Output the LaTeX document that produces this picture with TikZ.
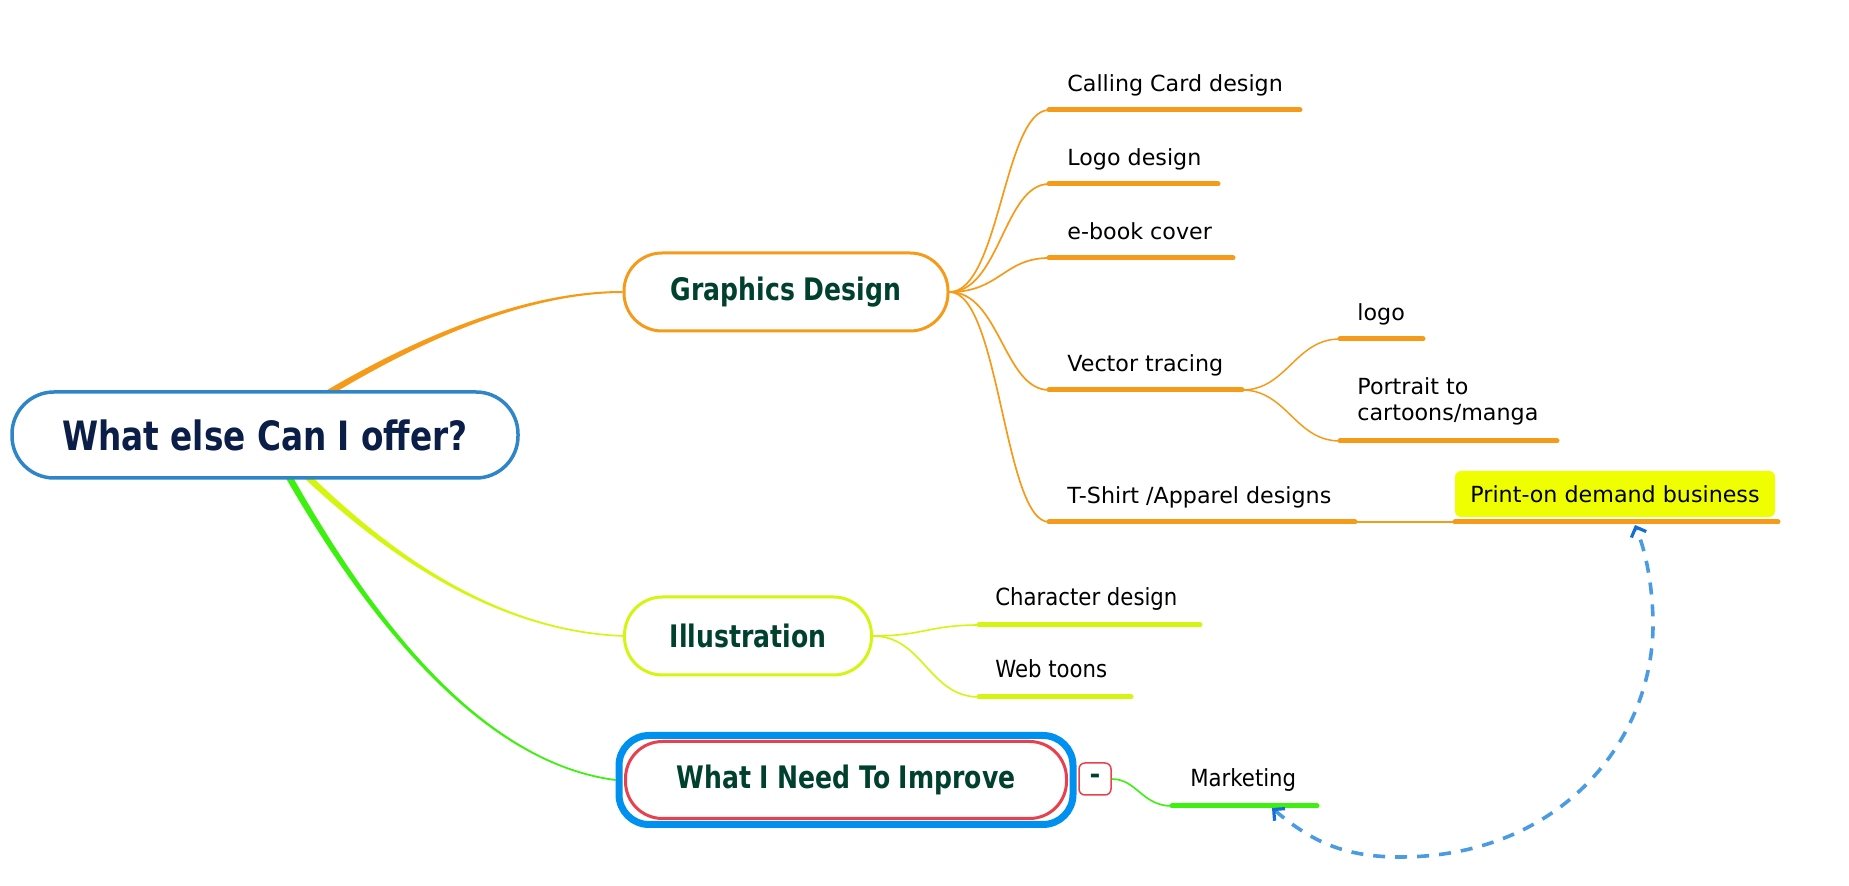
\documentclass[tikz,border=0pt]{standalone}
\usepackage{fontspec}
\setmainfont{DejaVu Sans}
\newfontfamily\condfont{DejaVu Sans Condensed}
\newfontfamily\topicfont{DejaVu Sans Condensed Bold}[FakeStretch=0.9]
\usetikzlibrary{arrows.meta,calc}
\definecolor{cOrange}{RGB}{245,155,25}
\definecolor{cYel}{RGB}{212,245,16}
\definecolor{cGreen}{RGB}{62,240,16}
\definecolor{rootBlue}{RGB}{46,134,200}
\definecolor{selBlue}{RGB}{0,145,240}
\definecolor{cRed}{RGB}{232,64,76}
\definecolor{pdYel}{RGB}{240,255,0}
\definecolor{dashBlue}{RGB}{74,155,225}
\definecolor{tipBlue}{RGB}{20,110,210}
\definecolor{topicText}{RGB}{0,64,46}
\definecolor{rootText}{RGB}{10,30,72}
\pgfdeclarelayer{bg}
\pgfsetlayers{bg,main}
\begin{document}
\begin{tikzpicture}[x=0.5pt,y=-0.5pt,
  topic/.style={draw, line width=1.5pt, fill=white, rounded corners=19pt,
    minimum height=39pt, inner sep=0pt, text=topicText,
    font=\topicfont\fontsize{15.5}{18}\selectfont},
  rootbox/.style={draw=rootBlue, line width=1.75pt, fill=white, rounded corners=21pt,
    minimum width=253pt, minimum height=43pt, inner sep=0pt, text=rootText,
    font=\topicfont\fontsize{20.2}{24}\selectfont},
  leaf/.style={anchor=base west, inner sep=0pt, text=black,
    font=\fontsize{11.1}{13}\selectfont},
  leafc/.style={anchor=base west, inner sep=0pt, text=black,
    font=\condfont\fontsize{11.8}{14}\selectfont},
  uline/.style={line width=2.5pt, line cap=round},
  fan/.style={line width=0.85pt},
]
\useasboundingbox (0,0) rectangle (1849,886);

% ---- main nodes
\node[rootbox] (root) at (265,435) {What else Can I offer?};
\node[topic, draw=cOrange, minimum width=162pt] (gd) at (786,292) {Graphics Design};
\node[topic, draw=cYel, minimum width=123.5pt] (il) at (748,636) {Illustration};
\node[draw=selBlue, fill=white, line width=3.5pt, rounded corners=15pt,
  minimum width=227pt, minimum height=44.5pt, inner sep=0pt] (impsel) at (846,780) {};
\node[topic, draw=cRed, minimum width=220.5pt, minimum height=38.5pt,
  rounded corners=18.5pt] (im) at (846,780) {What I Need To Improve};
\node[draw=cRed, line width=0.75pt, rounded corners=3pt, minimum size=16pt,
  inner sep=0pt, text=topicText, font=\bfseries\fontsize{13}{13}\selectfont] (minus) at (1095,779) {-};

% ---- Graphics Design children
\coordinate (cc-s) at (1049,110); \coordinate (cc-e) at (1300,110);
\coordinate (lg-s) at (1049,184); \coordinate (lg-e) at (1218,184);
\coordinate (eb-s) at (1049,258); \coordinate (eb-e) at (1233,258);
\coordinate (vt-s) at (1049,390); \coordinate (vt-e) at (1242,390);
\coordinate (ts-s) at (1049,522); \coordinate (ts-e) at (1355,522);
\node[leaf] (cc) at (1067,92) {Calling Card design};
\node[leaf] (lg) at (1067,166) {Logo design};
\node[leaf] (eb) at (1067,240) {e-book cover};
\node[leaf] (vt) at (1067,372) {Vector tracing};
\node[leaf] (ts) at (1067,504) {T-Shirt /Apparel designs};
\foreach \n in {cc,lg,eb,vt,ts}{
  \draw[cOrange, fan] (gd.east) .. controls +(50,0) and +(-45,0) .. (\n-s);
  \draw[cOrange, uline] (\n-s) -- (\n-e);
}

% ---- Vector tracing children
\coordinate (lo-s) at (1340,339); \coordinate (lo-e) at (1423,339);
\coordinate (pt-s) at (1340,441); \coordinate (pt-e) at (1557,441);
\node[leaf] (lo) at (1357,321) {logo};
\node[leaf, align=left, font=\fontsize{11.1}{13}\selectfont] (pt) at (1357,421) {Portrait to\\cartoons/manga};
\foreach \n in {lo,pt}{
  \draw[cOrange, line width=0.75pt] (vt-e) .. controls +(45,0) and +(-45,0) .. (\n-s);
  \draw[cOrange, uline] (\n-s) -- (\n-e);
}

% ---- Print-on demand
\node[fill=pdYel, rounded corners=3pt, minimum width=160pt, minimum height=23pt,
  inner sep=0pt, font=\fontsize{11.1}{13}\selectfont] (pd) at (1615,494) {Print-on demand business};
\coordinate (pd-s) at (1455,522); \coordinate (pd-e) at (1778,522);
\draw[cOrange, line width=1pt] (ts-e) -- (pd-s);
\draw[cOrange, uline] (pd-s) -- (pd-e);

% ---- Illustration children
\coordinate (ch-s) at (979,625); \coordinate (ch-e) at (1200,625);
\coordinate (wt-s) at (979,697); \coordinate (wt-e) at (1131,697);
\node[leafc] (ch) at (995,606) {Character design};
\node[leafc] (wt) at (995,678) {Web toons};
\foreach \n in {ch,wt}{
  \draw[cYel, line width=0.8pt] (il.east) .. controls +(50,0) and +(-50,0) .. (\n-s);
  \draw[cYel, uline] (\n-s) -- (\n-e);
}

% ---- Marketing
\coordinate (mk-s) at (1172,806); \coordinate (mk-e) at (1317,806);
\node[leafc] (mk) at (1190,787) {Marketing};
\draw[cGreen, line width=0.8pt] (minus.east) .. controls +(25,0) and +(-30,0) .. (mk-s);
\draw[cGreen, uline] (mk-s) -- (mk-e);

% ---- dashed relationship
\coordinate (rel-a) at (1272,808);
\coordinate (rel-b) at (1635,525);
\draw[dashBlue, line width=1.8pt, dash pattern=on 6pt off 5pt,
  {Straight Barb[color=tipBlue,length=4pt,width=8pt,line width=1.6pt]}-{Straight Barb[color=tipBlue,length=4pt,width=8pt,line width=1.6pt]}]
  (rel-a) .. controls (1315,845) and (1350,857) .. (1400,857)
  .. controls (1560,857) and (1655,740) .. (1653,620)
  .. controls (1652,580) and (1645,550) .. (rel-b);

% ---- main branches (tapered)
\begin{pgfonlayer}{bg}
\fill[cOrange] (285,416) .. controls (400,342) and (520,291) .. ($(gd.west)+(0,-1)$)
  -- ($(gd.west)+(0,1)$) .. controls (520,293) and (400,348) .. (285,424) -- cycle;
\fill[cYel] (282.5,447.5) .. controls (352,518) and (470,629.2) .. ($(il.west)+(0,-0.8)$)
  -- ($(il.west)+(0,0.8)$) .. controls (470,630.8) and (348,522) .. (277.5,452.5) -- cycle;
\fill[cGreen] (278,450.4) .. controls (342.6,568.6) and (460,759.1) .. ($(impsel.west)+(0,-0.9)$)
  -- ($(impsel.west)+(0,0.9)$) .. controls (460,760.9) and (337.4,571.4) .. (272,453.6) -- cycle;
\end{pgfonlayer}
\end{tikzpicture}
\end{document}
